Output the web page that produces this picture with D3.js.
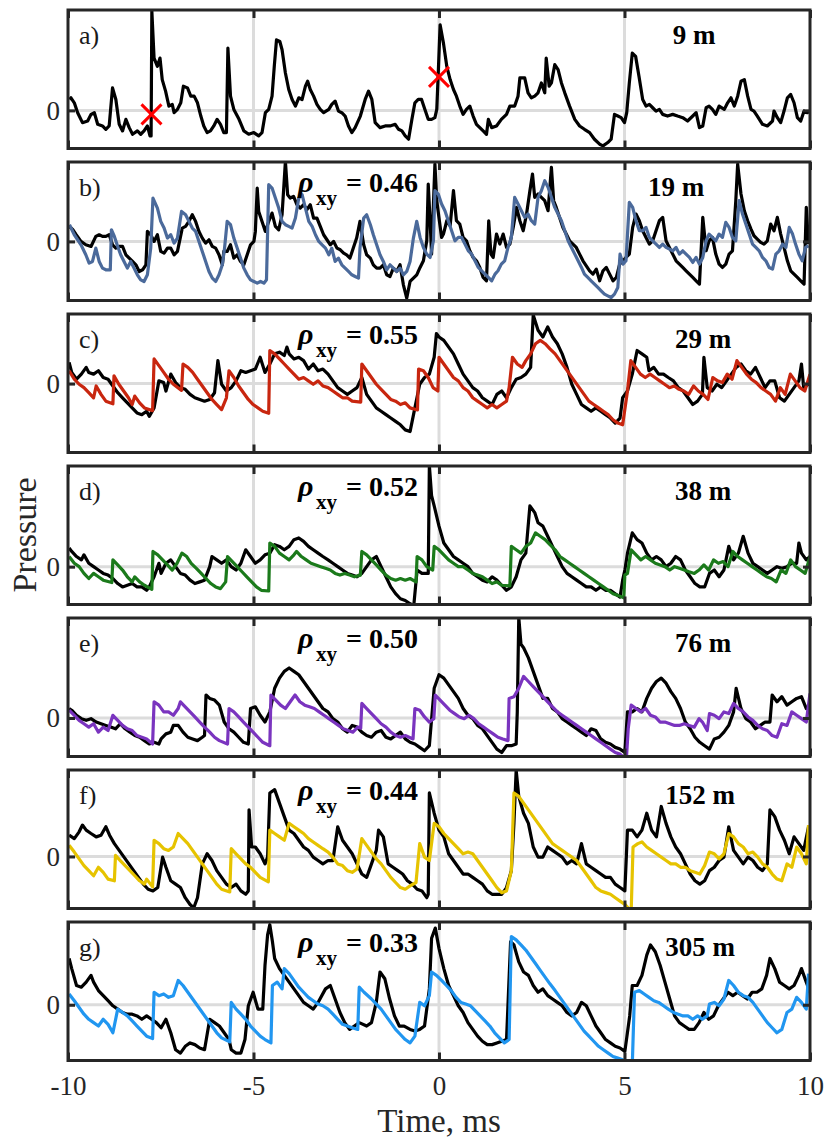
<!DOCTYPE html>
<html>
<head>
<meta charset="utf-8">
<script src="https://cdn.jsdelivr.net/npm/d3@7"></script>
<style>
  body { margin: 0; background: #fff; }
  svg { display: block; }
  text { font-family: "Liberation Serif", "Times New Roman", serif; }
</style>
</head>
<body>
<svg id="chart" width="826" height="1141"></svg>
<script>
// ---- axis settings ----
const timeTicks = [-10, -5, 0, 5, 10];
const gridTimes = [-5, 0, 5];
const panelLetters = ["a)", "b)", "c)", "d)", "e)", "f)", "g)"];
const distances = ["9 m", "19 m", "29 m", "38 m", "76 m", "152 m", "305 m"];
const rhoValues = [null, "0.46", "0.55", "0.52", "0.50", "0.44", "0.33"];
const modelColors = [null, "#4b6a9b", "#c8260f", "#1b7a1b", "#7a34bf", "#e6c300", "#2196f0"];
// pressure range shown in each panel [bottom, top]
const pressureRanges = [[-1.15, 3.03], [-1.77, 2.38], [-2.04, 2.06], [-1.12, 2.98], [-1.14, 2.96], [-1.54, 2.56], [-1.65, 2.45]];
// crosses on the reference record: [time ms, pressure]
const crossMarks = [[-7.75, -0.12], [0.0, 1.01]];

// ---- measured pressure records: [time ms, pressure] ----
const measuredA = [[-9.96,0.33],[-9.92,0.38],[-9.83,0.23],[-9.74,-0.07],[-9.61,-0.37],[-9.47,-0.32],[-9.38,-0.12],[-9.29,-0.07],[-9.20,-0.42],[-9.07,-0.47],[-8.98,-0.57],[-8.89,-0.47],[-8.80,0.68],[-8.71,0.33],[-8.62,-0.42],[-8.53,-0.62],[-8.44,-0.27],[-8.35,-0.52],[-8.26,-0.72],[-8.13,-0.62],[-8.04,-0.72],[-7.95,-0.62],[-7.86,-0.47],[-7.79,-0.77],[-7.76,-0.77],[-7.74,3.0],[-7.68,1.58],[-7.59,1.33],[-7.52,1.58],[-7.46,0.93],[-7.37,0.58],[-7.28,0.13],[-7.19,0.18],[-7.14,-0.07],[-7.05,0.03],[-6.96,0.23],[-6.89,0.73],[-6.78,0.68],[-6.69,0.43],[-6.60,0.43],[-6.51,0.23],[-6.42,-0.17],[-6.34,-0.47],[-6.25,-0.67],[-6.16,-0.62],[-6.07,-0.47],[-5.98,-0.27],[-5.89,-0.42],[-5.80,-0.67],[-5.73,-0.67],[-5.69,1.88],[-5.62,0.43],[-5.53,0.03],[-5.39,-0.27],[-5.26,-0.62],[-5.13,-0.72],[-4.99,-0.67],[-4.86,-0.77],[-4.77,-0.67],[-4.68,-0.07],[-4.59,0.03],[-4.50,0.43],[-4.44,1.33],[-4.38,2.13],[-4.29,2.08],[-4.23,1.83],[-4.14,1.13],[-4.05,0.63],[-3.96,0.33],[-3.87,0.13],[-3.78,0.38],[-3.69,0.33],[-3.60,0.73],[-3.54,0.88],[-3.47,0.63],[-3.38,0.43],[-3.29,0.18],[-3.20,0.03],[-3.11,-0.07],[-2.97,0.03],[-2.89,0.18],[-2.80,0.28],[-2.71,-0.02],[-2.62,-0.07],[-2.53,-0.17],[-2.44,-0.47],[-2.35,-0.67],[-2.26,-0.52],[-2.12,-0.17],[-1.99,0.33],[-1.90,0.58],[-1.81,0.33],[-1.72,-0.37],[-1.59,-0.52],[-1.45,-0.47],[-1.32,-0.47],[-1.18,-0.42],[-1.09,-0.57],[-1.00,-0.62],[-0.91,-0.77],[-0.82,-0.87],[-0.73,-0.27],[-0.65,0.23],[-0.56,0.33],[-0.47,0.33],[-0.38,0.03],[-0.29,-0.27],[-0.20,-0.27],[-0.11,-0.22],[-0.06,0.03],[-0.02,1.13],[0.03,2.58],[0.12,2.03],[0.21,1.33],[0.30,0.93],[0.39,0.63],[0.47,0.43],[0.56,0.13],[0.65,-0.12],[0.74,0.03],[0.83,0.13],[0.92,-0.17],[1.01,-0.42],[1.10,-0.52],[1.19,-0.62],[1.28,-0.72],[1.33,-0.27],[1.42,-0.52],[1.55,-0.47],[1.68,-0.27],[1.82,-0.12],[1.91,0.13],[2.04,0.13],[2.13,0.43],[2.18,0.98],[2.31,0.98],[2.40,0.53],[2.49,0.38],[2.58,0.43],[2.67,0.53],[2.76,0.83],[2.85,0.53],[2.89,1.58],[2.97,0.73],[3.03,0.83],[3.12,1.38],[3.21,1.23],[3.30,0.83],[3.39,0.53],[3.52,0.13],[3.66,-0.27],[3.79,-0.47],[3.92,-0.57],[4.06,-0.67],[4.19,-0.87],[4.33,-1.02],[4.42,-1.07],[4.55,-0.97],[4.64,-0.87],[4.73,-0.12],[4.82,-0.17],[4.91,-0.22],[5.00,-0.37],[5.06,-0.07],[5.13,0.83],[5.21,1.73],[5.30,1.63],[5.39,1.03],[5.49,0.33],[5.58,0.13],[5.67,0.18],[5.76,0.08],[5.85,-0.02],[5.94,0.03],[6.03,-0.12],[6.16,-0.17],[6.30,-0.12],[6.43,-0.17],[6.57,-0.22],[6.70,-0.32],[6.84,-0.17],[6.93,-0.07],[7.02,-0.52],[7.11,-0.47],[7.20,0.08],[7.28,0.13],[7.37,0.03],[7.46,-0.12],[7.55,0.13],[7.69,0.03],[7.78,0.23],[7.87,0.38],[7.96,0.13],[8.05,0.43],[8.14,0.88],[8.23,0.93],[8.32,0.43],[8.41,0.03],[8.49,-0.02],[8.58,-0.17],[8.72,-0.42],[8.85,-0.47],[8.99,-0.32],[9.03,-0.02],[9.12,-0.22],[9.21,-0.37],[9.30,-0.02],[9.39,0.38],[9.48,0.48],[9.57,0.23],[9.66,-0.22],[9.75,-0.32],[9.84,-0.02],[9.93,-0.07],[10.0,-0.02]];

const measuredB = [[-9.96,0.45],[-9.87,0.35],[-9.78,0.20],[-9.65,0.00],[-9.52,-0.10],[-9.38,-0.15],[-9.25,0.15],[-9.16,0.20],[-9.07,0.15],[-8.98,0.15],[-8.89,0.20],[-8.80,-0.10],[-8.71,-0.20],[-8.62,-0.15],[-8.53,-0.15],[-8.44,-0.40],[-8.35,-0.50],[-8.26,-0.60],[-8.17,-0.70],[-8.08,-0.90],[-7.99,-0.85],[-7.90,-0.70],[-7.86,0.30],[-7.77,0.20],[-7.68,0.00],[-7.59,0.20],[-7.50,-0.30],[-7.41,-0.35],[-7.32,-0.20],[-7.23,-0.20],[-7.14,-0.40],[-7.05,-0.30],[-6.92,0.40],[-6.83,0.45],[-6.74,0.60],[-6.65,0.80],[-6.56,0.60],[-6.47,0.30],[-6.38,0.10],[-6.29,-0.05],[-6.20,0.05],[-6.11,-0.15],[-6.02,-0.20],[-5.93,-0.40],[-5.84,-0.70],[-5.80,-0.30],[-5.71,-0.30],[-5.62,-0.10],[-5.53,-0.50],[-5.44,-0.40],[-5.35,-0.60],[-5.26,-0.70],[-5.17,-0.40],[-5.08,-0.10],[-4.99,0.00],[-4.95,0.30],[-4.90,1.60],[-4.86,0.90],[-4.77,0.60],[-4.68,0.30],[-4.59,0.60],[-4.50,0.85],[-4.41,0.45],[-4.32,0.35],[-4.23,0.80],[-4.14,2.40],[-4.08,1.40],[-4.01,1.30],[-3.92,1.35],[-3.83,1.10],[-3.74,1.00],[-3.65,1.10],[-3.56,0.95],[-3.47,1.10],[-3.38,0.70],[-3.29,0.70],[-3.20,0.45],[-3.11,0.20],[-3.02,0.05],[-2.93,-0.10],[-2.84,0.00],[-2.75,-0.20],[-2.66,-0.25],[-2.57,-0.35],[-2.49,-0.40],[-2.40,-0.50],[-2.31,-0.20],[-2.22,0.10],[-2.13,0.60],[-2.03,-0.10],[-1.95,-0.40],[-1.85,-0.50],[-1.77,-0.70],[-1.68,-0.80],[-1.59,-0.80],[-1.50,-0.70],[-1.41,-1.00],[-1.32,-1.05],[-1.23,-0.80],[-1.14,-0.90],[-1.05,-0.70],[-0.96,-1.30],[-0.87,-1.70],[-0.78,-1.20],[-0.69,-1.10],[-0.60,-1.00],[-0.51,-0.78],[-0.42,-0.58],[-0.33,0.02],[-0.29,1.72],[-0.24,0.62],[-0.20,-0.38],[-0.15,1.12],[-0.11,2.32],[-0.06,1.22],[0.01,0.62],[0.07,0.12],[0.12,0.22],[0.21,0.62],[0.30,0.47],[0.39,1.52],[0.47,0.62],[0.56,0.52],[0.65,0.12],[0.74,0.02],[0.83,-0.28],[0.92,-0.48],[1.01,-0.58],[1.10,-0.78],[1.19,-1.08],[1.28,-1.18],[1.34,0.62],[1.40,-0.38],[1.46,-0.48],[1.55,0.22],[1.64,-0.08],[1.73,0.22],[1.82,-0.18],[1.91,-0.08],[2.00,0.42],[2.09,1.02],[2.18,0.62],[2.27,0.32],[2.36,0.82],[2.45,1.52],[2.52,2.02],[2.58,1.32],[2.67,1.42],[2.76,1.32],[2.85,1.22],[2.94,0.92],[3.03,2.22],[3.09,1.22],[3.16,1.02],[3.25,0.72],[3.34,0.42],[3.43,0.22],[3.52,0.02],[3.61,-0.08],[3.70,-0.18],[3.79,-0.38],[3.88,-0.58],[3.97,-0.73],[4.06,-0.88],[4.15,-0.98],[4.24,-0.83],[4.33,-1.18],[4.42,-0.88],[4.51,-0.78],[4.60,-0.98],[4.69,-1.18],[4.78,-1.08],[4.87,-0.68],[4.96,-0.58],[5.04,-0.48],[5.13,-0.38],[5.22,0.42],[5.31,0.82],[5.40,0.62],[5.49,0.32],[5.58,0.12],[5.67,-0.08],[5.76,0.02],[5.85,0.32],[5.94,0.62],[6.03,0.72],[6.12,0.02],[6.21,-0.18],[6.30,-0.38],[6.39,-0.58],[6.48,-0.68],[6.57,-0.78],[6.66,-0.88],[6.75,-0.98],[6.84,-1.08],[6.93,-1.18],[7.02,-1.28],[7.11,0.72],[7.20,-0.28],[7.28,0.02],[7.37,0.12],[7.46,-0.38],[7.55,-0.68],[7.64,-0.78],[7.73,-0.68],[7.82,-0.38],[7.91,-0.28],[8.00,1.22],[8.05,2.32],[8.14,1.42],[8.23,0.92],[8.32,0.62],[8.41,0.37],[8.49,0.17],[8.58,0.07],[8.67,-0.03],[8.76,-0.08],[8.85,0.02],[8.94,0.52],[9.03,0.32],[9.12,0.72],[9.21,0.22],[9.30,-0.18],[9.39,-0.58],[9.48,-0.88],[9.57,-0.98],[9.66,-1.08],[9.75,-1.18],[9.84,-1.28],[9.90,1.02],[9.96,-0.08]];

const measuredC = [[-9.97,0.63],[-9.90,0.33],[-9.77,0.13],[-9.64,0.28],[-9.51,0.48],[-9.44,0.33],[-9.31,0.28],[-9.18,0.38],[-9.05,0.18],[-8.92,0.13],[-8.79,-0.07],[-8.66,-0.27],[-8.53,-0.42],[-8.40,-0.57],[-8.27,-0.72],[-8.14,-0.87],[-8.01,-0.92],[-7.88,-0.82],[-7.81,-0.97],[-7.68,-0.72],[-7.55,0.08],[-7.42,0.03],[-7.36,-0.22],[-7.23,0.28],[-7.10,0.03],[-6.97,-0.12],[-6.84,-0.17],[-6.71,-0.32],[-6.58,-0.42],[-6.45,-0.47],[-6.32,-0.52],[-6.18,-0.47],[-6.05,-0.27],[-5.96,0.68],[-5.86,-0.02],[-5.73,-0.22],[-5.60,-0.12],[-5.47,0.08],[-5.34,0.38],[-5.21,0.33],[-5.08,0.38],[-4.95,0.43],[-4.82,0.78],[-4.69,0.33],[-4.56,0.58],[-4.43,0.88],[-4.30,0.93],[-4.17,0.83],[-4.10,1.08],[-4.04,0.88],[-3.91,0.73],[-3.78,0.78],[-3.65,0.68],[-3.52,0.43],[-3.39,0.58],[-3.26,0.38],[-3.13,0.43],[-2.99,0.28],[-2.86,0.08],[-2.73,-0.12],[-2.60,-0.22],[-2.47,-0.32],[-2.34,-0.22],[-2.21,-0.12],[-2.08,0.18],[-1.95,-0.32],[-1.82,-0.52],[-1.69,-0.72],[-1.56,-0.82],[-1.43,-0.92],[-1.30,-1.02],[-1.17,-1.12],[-1.04,-1.22],[-0.91,-1.37],[-0.78,-1.42],[-0.65,-0.72],[-0.52,-0.02],[-0.39,0.18],[-0.26,0.28],[-0.13,0.78],[-0.07,1.48],[0.00,1.38],[0.13,1.28],[0.26,1.08],[0.39,0.88],[0.52,0.58],[0.65,0.28],[0.78,0.08],[0.91,-0.12],[1.04,-0.22],[1.17,-0.42],[1.30,-0.52],[1.43,-0.62],[1.56,-0.32],[1.69,-0.22],[1.82,-0.42],[1.95,-0.12],[2.08,0.13],[2.21,0.18],[2.34,0.28],[2.47,0.48],[2.54,2.03],[2.67,1.58],[2.80,1.38],[2.93,1.68],[3.06,1.38],[3.19,1.18],[3.32,0.88],[3.45,0.48],[3.58,-0.02],[3.71,-0.32],[3.84,-0.62],[3.97,-0.72],[4.10,-0.82],[4.23,-0.72],[4.36,-0.82],[4.49,-0.92],[4.62,-1.02],[4.75,-1.17],[4.88,-1.02],[4.95,-0.42],[5.08,-0.22],[5.21,0.28],[5.34,0.98],[5.47,0.88],[5.60,0.78],[5.66,0.38],[5.79,0.48],[5.92,0.28],[6.05,0.28],[6.18,0.18],[6.32,0.08],[6.45,-0.12],[6.58,-0.22],[6.71,-0.42],[6.84,-0.62],[6.97,-0.52],[7.10,-0.32],[7.14,0.78],[7.23,-0.12],[7.36,-0.22],[7.49,-0.02],[7.62,-0.12],[7.75,0.08],[7.88,0.28],[8.01,0.48],[8.14,0.58],[8.27,0.38],[8.40,0.28],[8.53,0.48],[8.66,0.18],[8.79,-0.12],[8.92,0.08],[9.05,0.08],[9.18,-0.42],[9.31,-0.52],[9.44,-0.32],[9.57,-0.12],[9.70,0.08],[9.77,0.58],[9.83,-0.12],[9.96,-0.02]];

const measuredD = [[-9.97,0.55],[-9.90,0.45],[-9.77,0.30],[-9.64,0.20],[-9.57,0.35],[-9.44,0.10],[-9.31,0.00],[-9.18,-0.10],[-9.05,-0.20],[-8.92,-0.25],[-8.79,-0.35],[-8.66,-0.50],[-8.53,-0.60],[-8.40,-0.55],[-8.27,-0.50],[-8.14,-0.60],[-8.01,-0.60],[-7.88,-0.70],[-7.81,-0.60],[-7.68,-0.30],[-7.55,0.10],[-7.49,-0.20],[-7.36,0.10],[-7.23,0.20],[-7.10,0.00],[-6.97,-0.20],[-6.84,-0.25],[-6.71,-0.40],[-6.58,-0.50],[-6.45,-0.45],[-6.32,-0.40],[-6.18,0.00],[-6.12,0.30],[-5.99,0.20],[-5.86,0.10],[-5.73,0.20],[-5.60,0.00],[-5.47,-0.10],[-5.34,0.10],[-5.21,0.50],[-5.08,0.30],[-4.95,0.10],[-4.82,0.20],[-4.69,0.35],[-4.56,0.40],[-4.43,0.65],[-4.30,0.60],[-4.17,0.50],[-4.04,0.60],[-3.91,0.80],[-3.78,0.85],[-3.65,0.75],[-3.52,0.60],[-3.39,0.50],[-3.26,0.40],[-3.13,0.30],[-2.99,0.20],[-2.86,0.10],[-2.73,0.00],[-2.60,-0.10],[-2.47,-0.20],[-2.34,-0.25],[-2.21,-0.30],[-2.08,-0.20],[-1.95,0.00],[-1.82,0.20],[-1.69,0.30],[-1.56,0.00],[-1.43,-0.30],[-1.30,-0.60],[-1.17,-0.80],[-1.04,-0.95],[-0.91,-1.00],[-0.78,-1.10],[-0.68,-1.15],[-0.59,-0.10],[-0.46,-0.20],[-0.33,-0.20],[-0.29,-0.20],[-0.26,3.00],[-0.20,2.10],[-0.13,1.80],[0.00,1.20],[0.13,0.70],[0.26,0.50],[0.39,0.30],[0.52,0.20],[0.65,0.10],[0.78,0.00],[0.91,-0.20],[1.04,-0.30],[1.17,-0.40],[1.30,-0.45],[1.43,-0.30],[1.56,-0.40],[1.69,-0.55],[1.82,-0.70],[1.95,-0.60],[2.08,-0.30],[2.21,0.20],[2.34,0.40],[2.45,1.80],[2.58,1.60],[2.67,1.30],[2.80,1.20],[2.93,0.90],[3.06,0.60],[3.19,0.30],[3.32,0.00],[3.45,-0.20],[3.58,-0.30],[3.71,-0.40],[3.84,-0.50],[3.97,-0.60],[4.10,-0.60],[4.23,-0.70],[4.36,-0.60],[4.49,-0.70],[4.62,-0.70],[4.75,-0.80],[4.88,-0.90],[4.95,-0.40],[5.01,-0.10],[5.08,0.40],[5.21,1.00],[5.34,0.80],[5.47,0.70],[5.60,0.40],[5.73,0.20],[5.86,0.30],[5.99,0.20],[6.12,0.00],[6.25,0.10],[6.38,0.30],[6.51,0.20],[6.64,-0.10],[6.77,-0.30],[6.90,-0.50],[7.03,-0.60],[7.16,-0.60],[7.29,-0.20],[7.42,-0.10],[7.55,-0.30],[7.68,-0.10],[7.81,0.60],[7.94,0.20],[8.07,0.40],[8.20,0.90],[8.33,0.40],[8.46,0.10],[8.59,0.00],[8.72,-0.10],[8.85,-0.20],[8.98,-0.10],[9.11,0.00],[9.24,-0.05],[9.38,0.00],[9.51,0.10],[9.64,0.10],[9.70,0.70],[9.77,0.40],[9.90,0.20],[10.0,0.30]];

const measuredE = [[-9.97,0.28],[-9.90,0.23],[-9.77,0.08],[-9.64,-0.02],[-9.51,-0.07],[-9.38,-0.02],[-9.24,-0.12],[-9.11,-0.17],[-8.98,-0.22],[-8.85,-0.27],[-8.72,-0.32],[-8.59,-0.17],[-8.46,-0.32],[-8.33,-0.42],[-8.20,-0.52],[-8.07,-0.57],[-7.94,-0.67],[-7.81,-0.77],[-7.68,-0.72],[-7.55,-0.77],[-7.49,-0.62],[-7.36,-0.47],[-7.23,-0.42],[-7.16,-0.22],[-7.03,-0.22],[-6.90,-0.42],[-6.77,-0.57],[-6.64,-0.62],[-6.51,-0.67],[-6.38,-0.57],[-6.32,-0.52],[-6.28,0.68],[-6.18,0.58],[-6.05,0.53],[-5.92,0.38],[-5.79,-0.12],[-5.66,-0.32],[-5.53,-0.42],[-5.40,-0.57],[-5.27,-0.72],[-5.14,-0.77],[-5.08,0.28],[-4.95,0.33],[-4.82,0.08],[-4.69,-0.12],[-4.56,0.18],[-4.43,0.88],[-4.30,1.18],[-4.17,1.38],[-4.04,1.48],[-3.91,1.38],[-3.78,1.28],[-3.65,1.08],[-3.52,0.88],[-3.39,0.68],[-3.26,0.48],[-3.13,0.28],[-2.99,0.18],[-2.86,-0.02],[-2.73,-0.12],[-2.60,-0.32],[-2.47,-0.42],[-2.34,-0.22],[-2.21,-0.27],[-2.08,-0.42],[-1.95,-0.52],[-1.82,-0.57],[-1.69,-0.42],[-1.56,-0.37],[-1.43,-0.57],[-1.30,-0.62],[-1.17,-0.52],[-1.04,-0.42],[-0.91,-0.62],[-0.78,-0.72],[-0.65,-0.77],[-0.52,-0.87],[-0.39,-0.97],[-0.26,-0.82],[-0.13,0.88],[0.00,1.28],[0.13,1.18],[0.26,0.98],[0.39,0.78],[0.52,0.58],[0.65,0.28],[0.78,0.08],[0.91,-0.02],[1.04,-0.22],[1.17,-0.32],[1.30,-0.52],[1.43,-0.72],[1.56,-0.92],[1.69,-1.02],[1.82,-0.82],[1.95,-0.82],[2.08,-0.77],[2.11,0.18],[2.15,2.98],[2.21,2.18],[2.28,2.08],[2.41,1.78],[2.54,1.38],[2.67,0.98],[2.80,0.58],[2.93,0.58],[3.06,0.28],[3.19,0.18],[3.32,-0.02],[3.45,-0.12],[3.58,-0.22],[3.71,-0.32],[3.84,-0.42],[3.97,-0.52],[4.10,-0.32],[4.23,-0.37],[4.36,-0.62],[4.49,-0.72],[4.62,-0.77],[4.75,-0.87],[4.88,-0.92],[5.01,-1.02],[5.08,0.18],[5.21,0.18],[5.34,0.28],[5.47,0.18],[5.60,0.58],[5.73,0.88],[5.86,1.08],[5.99,1.18],[6.12,1.03],[6.25,0.78],[6.38,0.58],[6.51,0.28],[6.64,-0.12],[6.77,-0.32],[6.90,-0.57],[7.03,-0.72],[7.16,-0.82],[7.29,-0.92],[7.42,-0.62],[7.55,-0.57],[7.68,-0.42],[7.81,-0.22],[7.94,0.18],[8.01,0.88],[8.14,0.28],[8.27,-0.02],[8.40,-0.12],[8.53,-0.32],[8.66,-0.22],[8.79,-0.12],[8.92,-0.12],[8.98,0.68],[9.11,0.48],[9.24,0.63],[9.38,0.38],[9.51,0.48],[9.64,0.58],[9.77,0.63],[9.90,0.28],[10.0,0.38]];

const measuredF = [[-9.97,0.63],[-9.83,0.53],[-9.70,0.73],[-9.61,0.93],[-9.51,0.78],[-9.38,0.68],[-9.24,0.58],[-9.11,0.63],[-8.98,0.88],[-8.88,0.63],[-8.75,0.38],[-8.62,0.18],[-8.49,-0.02],[-8.36,-0.22],[-8.23,-0.42],[-8.10,-0.62],[-7.97,-0.82],[-7.84,-0.97],[-7.71,-1.02],[-7.58,-0.92],[-7.45,-0.02],[-7.36,-0.32],[-7.23,-0.72],[-7.10,-0.82],[-6.97,-0.92],[-6.84,-1.22],[-6.71,-1.42],[-6.61,-1.52],[-6.51,-1.22],[-6.38,-0.22],[-6.25,0.08],[-6.12,-0.12],[-5.99,-0.42],[-5.86,-0.62],[-5.73,-0.82],[-5.60,-0.92],[-5.47,-0.82],[-5.34,-1.02],[-5.21,-1.12],[-5.14,-1.02],[-5.12,1.38],[-5.05,0.28],[-4.95,0.28],[-4.82,0.08],[-4.69,-0.22],[-4.62,-0.02],[-4.56,1.88],[-4.43,1.98],[-4.30,1.58],[-4.17,1.18],[-4.04,0.78],[-3.91,0.68],[-3.78,0.48],[-3.65,0.28],[-3.52,0.18],[-3.39,-0.02],[-3.26,-0.12],[-3.13,-0.22],[-2.99,-0.12],[-2.86,-0.12],[-2.73,0.88],[-2.60,0.48],[-2.47,0.28],[-2.34,0.08],[-2.21,-0.22],[-2.08,-0.52],[-1.95,-0.62],[-1.82,-0.22],[-1.69,0.18],[-1.63,0.78],[-1.50,0.58],[-1.37,-0.22],[-1.24,-0.32],[-1.11,-0.42],[-0.98,-0.52],[-0.85,-0.72],[-0.72,-0.82],[-0.59,-0.97],[-0.46,-1.02],[-0.33,-1.22],[-0.29,-1.12],[-0.26,1.88],[-0.13,1.28],[0.00,0.78],[0.13,0.58],[0.26,0.08],[0.39,-0.12],[0.52,-0.32],[0.65,-0.52],[0.78,-0.52],[0.91,-0.62],[1.04,-0.72],[1.17,-0.82],[1.30,-1.02],[1.43,-1.12],[1.56,-1.12],[1.69,-1.12],[1.82,-0.92],[1.95,-0.42],[2.02,0.98],[2.08,2.56],[2.15,1.78],[2.28,1.28],[2.41,0.98],[2.54,0.28],[2.67,-0.02],[2.80,-0.02],[2.93,0.28],[3.06,0.18],[3.19,0.08],[3.32,-0.02],[3.45,-0.22],[3.58,-0.12],[3.71,-0.22],[3.84,0.38],[3.97,-0.22],[4.10,-0.32],[4.23,-0.42],[4.36,-0.52],[4.49,-0.62],[4.62,-0.62],[4.75,-0.82],[4.88,-0.92],[5.01,-1.02],[5.08,0.78],[5.21,0.78],[5.34,0.58],[5.47,0.78],[5.60,1.28],[5.73,0.78],[5.86,0.58],[5.99,1.48],[6.12,0.98],[6.25,0.58],[6.38,0.28],[6.51,0.08],[6.64,-0.22],[6.77,-0.52],[6.90,-0.72],[7.03,-0.82],[7.16,-0.72],[7.29,-0.42],[7.42,-0.32],[7.55,-0.12],[7.68,-0.02],[7.81,0.88],[7.94,0.18],[8.07,-0.02],[8.20,-0.22],[8.33,-0.02],[8.46,-0.12],[8.59,-0.32],[8.72,-0.42],[8.85,-0.22],[8.92,1.38],[9.05,1.18],[9.18,0.78],[9.31,0.48],[9.44,0.08],[9.57,0.58],[9.70,0.38],[9.83,0.18],[9.96,0.88]];

const measuredG = [[-9.97,1.37],[-9.90,1.07],[-9.77,0.57],[-9.64,0.52],[-9.51,0.67],[-9.38,0.87],[-9.31,0.67],[-9.18,0.42],[-9.05,0.27],[-8.92,0.12],[-8.79,-0.03],[-8.66,-0.13],[-8.53,-0.23],[-8.40,-0.28],[-8.27,-0.28],[-8.14,-0.33],[-8.01,-0.43],[-7.88,-0.33],[-7.75,-0.43],[-7.62,-0.53],[-7.49,-0.68],[-7.36,-0.43],[-7.23,-0.83],[-7.10,-1.33],[-6.97,-1.43],[-6.84,-1.23],[-6.71,-1.13],[-6.58,-1.18],[-6.45,-1.28],[-6.32,-1.33],[-6.18,-0.43],[-6.05,-0.53],[-5.92,-0.63],[-5.79,-0.83],[-5.66,-1.03],[-5.60,-1.33],[-5.47,-1.43],[-5.34,-1.43],[-5.23,-1.03],[-5.14,-0.03],[-5.01,0.37],[-4.88,-0.13],[-4.75,-0.13],[-4.69,1.17],[-4.62,2.07],[-4.56,2.37],[-4.49,1.87],[-4.43,1.37],[-4.30,1.07],[-4.17,0.87],[-4.04,0.67],[-3.91,0.47],[-3.78,0.27],[-3.65,0.07],[-3.52,-0.03],[-3.39,-0.13],[-3.26,0.07],[-3.06,0.47],[-2.93,0.57],[-2.80,0.17],[-2.67,-0.23],[-2.54,-0.53],[-2.41,-0.73],[-2.28,-0.63],[-2.15,-0.53],[-1.95,-0.63],[-1.82,-0.53],[-1.69,0.07],[-1.59,0.97],[-1.46,0.77],[-1.33,0.17],[-1.20,-0.33],[-1.07,-0.63],[-0.94,-0.63],[-0.78,-0.73],[-0.65,-0.78],[-0.52,-0.73],[-0.39,-0.63],[-0.26,0.47],[-0.20,1.97],[-0.10,2.27],[0.00,1.67],[0.13,1.07],[0.26,0.57],[0.39,0.27],[0.52,-0.03],[0.65,-0.23],[0.78,-0.53],[0.91,-0.73],[1.04,-0.93],[1.17,-1.08],[1.30,-1.18],[1.43,-1.18],[1.56,-1.13],[1.69,-1.08],[1.82,-1.03],[1.93,1.87],[2.02,1.77],[2.15,1.27],[2.28,0.97],[2.41,0.87],[2.54,0.57],[2.67,0.37],[2.80,0.47],[2.93,0.27],[3.06,0.17],[3.19,0.07],[3.32,-0.03],[3.45,-0.23],[3.58,-0.33],[3.71,-0.23],[3.84,0.07],[3.97,-0.03],[4.10,-0.33],[4.23,-0.63],[4.36,-0.83],[4.49,-1.03],[4.62,-1.13],[4.75,-1.23],[4.88,-1.28],[5.01,-1.38],[5.14,-0.33],[5.21,0.57],[5.34,0.57],[5.47,0.87],[5.60,1.47],[5.70,1.77],[5.83,1.57],[5.96,1.17],[6.09,0.67],[6.22,0.17],[6.35,-0.33],[6.48,-0.53],[6.61,-0.63],[6.74,-0.73],[6.88,-0.73],[7.01,-0.53],[7.14,-0.23],[7.27,-0.43],[7.40,-0.33],[7.53,-0.03],[7.66,0.17],[7.79,0.37],[7.92,0.27],[8.05,0.37],[8.18,0.27],[8.31,0.17],[8.44,0.37],[8.57,0.37],[8.70,0.47],[8.83,0.87],[8.92,1.37],[9.05,1.07],[9.18,0.67],[9.31,0.57],[9.44,0.47],[9.57,0.57],[9.70,0.87],[9.77,1.07],[9.90,0.67],[10.0,0.37]];

// ---- modelled pressure records: [time ms, pressure] ----
const modelB = [[-9.96,0.50],[-9.83,0.20],[-9.65,-0.10],[-9.52,-0.40],[-9.43,-0.65],[-9.34,-0.60],[-9.25,-0.20],[-9.16,-0.60],[-9.07,-0.80],[-8.98,-0.85],[-8.86,-0.85],[-8.83,0.35],[-8.75,0.15],[-8.66,-0.15],[-8.58,-0.40],[-8.49,-0.60],[-8.40,-0.80],[-8.31,-0.60],[-8.22,-0.80],[-8.13,-1.00],[-8.04,-1.15],[-7.95,-1.20],[-7.86,-1.00],[-7.77,-0.20],[-7.71,1.30],[-7.59,1.00],[-7.50,0.60],[-7.41,0.40],[-7.32,0.10],[-7.23,0.20],[-7.14,-0.05],[-7.05,0.10],[-6.94,0.90],[-6.83,0.80],[-6.74,0.60],[-6.65,0.40],[-6.56,0.30],[-6.47,0.00],[-6.38,-0.30],[-6.29,-0.60],[-6.20,-0.90],[-6.11,-1.10],[-6.02,-1.20],[-5.93,-1.00],[-5.84,-0.70],[-5.78,-0.20],[-5.71,0.60],[-5.62,0.50],[-5.53,0.10],[-5.44,-0.20],[-5.35,-0.50],[-5.26,-0.80],[-5.17,-1.00],[-5.08,-1.15],[-4.99,-1.20],[-4.90,-1.25],[-4.81,-1.20],[-4.72,-1.25],[-4.65,-1.15],[-4.59,1.70],[-4.50,1.60],[-4.41,1.30],[-4.32,1.00],[-4.23,0.60],[-4.14,0.50],[-4.05,0.45],[-3.96,0.40],[-3.87,0.70],[-3.78,1.30],[-3.69,1.40],[-3.60,1.00],[-3.51,0.60],[-3.42,0.45],[-3.33,0.20],[-3.24,0.00],[-3.15,-0.10],[-3.06,-0.20],[-2.97,-0.40],[-2.89,-0.20],[-2.80,-0.60],[-2.71,-0.50],[-2.62,-0.70],[-2.53,-0.80],[-2.44,-0.90],[-2.35,-1.00],[-2.26,-1.05],[-2.17,-1.10],[-2.13,-0.20],[-2.03,0.70],[-1.95,0.80],[-1.85,0.50],[-1.77,0.20],[-1.68,-0.10],[-1.59,-0.40],[-1.50,-0.60],[-1.41,-0.85],[-1.32,-0.70],[-1.23,-0.80],[-1.14,-0.90],[-1.05,-0.80],[-0.96,-1.00],[-0.87,-0.90],[-0.78,-0.60],[-0.69,0.10],[-0.60,0.60],[-0.51,0.12],[-0.42,-0.18],[-0.33,-0.38],[-0.24,-0.48],[-0.15,0.02],[-0.11,1.52],[-0.02,1.42],[0.07,1.12],[0.16,0.92],[0.25,0.62],[0.34,0.32],[0.43,0.02],[0.52,0.12],[0.61,0.12],[0.70,-0.08],[0.79,-0.28],[0.88,-0.38],[0.97,-0.58],[1.06,-0.78],[1.15,-0.88],[1.24,-0.98],[1.33,-1.08],[1.42,-1.18],[1.51,-0.98],[1.59,-0.88],[1.68,-0.68],[1.77,-0.58],[1.86,-0.18],[1.95,0.12],[2.04,1.32],[2.13,1.12],[2.22,0.92],[2.31,0.72],[2.40,0.82],[2.49,0.62],[2.58,0.52],[2.67,1.32],[2.76,1.52],[2.85,1.82],[2.94,1.62],[3.03,1.32],[3.12,1.02],[3.21,0.82],[3.30,0.62],[3.39,0.32],[3.48,0.02],[3.57,-0.18],[3.66,-0.38],[3.75,-0.58],[3.84,-0.78],[3.92,-0.98],[4.01,-1.08],[4.10,-1.18],[4.19,-1.28],[4.28,-1.38],[4.37,-1.48],[4.46,-1.58],[4.55,-1.63],[4.64,-1.68],[4.73,-1.58],[4.82,-1.38],[4.88,-0.38],[4.96,-0.68],[5.04,-0.58],[5.13,1.17],[5.22,1.02],[5.31,0.62],[5.40,0.32],[5.49,0.32],[5.58,0.42],[5.67,0.12],[5.76,0.02],[5.85,-0.08],[5.94,-0.18],[6.03,-0.08],[6.12,-0.18],[6.21,-0.23],[6.30,-0.28],[6.39,-0.18],[6.48,-0.38],[6.57,-0.28],[6.66,-0.38],[6.75,-0.48],[6.84,-0.63],[6.93,-0.48],[7.02,-0.68],[7.11,-0.48],[7.20,0.02],[7.28,0.22],[7.37,0.12],[7.46,0.02],[7.55,0.22],[7.64,0.12],[7.73,0.57],[7.82,0.42],[7.91,0.12],[8.00,0.02],[8.09,1.22],[8.18,0.82],[8.27,0.52],[8.36,0.22],[8.45,-0.08],[8.54,-0.18],[8.63,-0.28],[8.72,-0.48],[8.81,-0.58],[8.90,-0.78],[8.99,-0.83],[9.08,-0.38],[9.17,-0.28],[9.26,-0.08],[9.35,-0.18],[9.44,0.42],[9.53,0.22],[9.61,-0.08],[9.70,-0.38],[9.79,-0.58],[9.88,-0.18],[9.96,-0.13]];

const modelC = [[-9.97,0.38],[-9.83,0.13],[-9.70,-0.02],[-9.57,-0.12],[-9.44,-0.27],[-9.31,-0.42],[-9.24,-0.07],[-9.11,-0.32],[-8.98,-0.52],[-8.79,-0.60],[-8.76,0.23],[-8.63,-0.02],[-8.50,-0.22],[-8.37,-0.42],[-8.27,-0.62],[-8.20,-0.37],[-8.07,-0.57],[-7.94,-0.72],[-7.72,-0.80],[-7.68,0.73],[-7.55,0.53],[-7.42,0.33],[-7.29,0.13],[-7.16,-0.02],[-6.94,-0.20],[-6.90,0.58],[-6.77,0.48],[-6.64,0.33],[-6.51,0.13],[-6.38,-0.07],[-6.25,-0.27],[-6.12,-0.47],[-5.99,-0.62],[-5.86,-0.77],[-5.73,-0.42],[-5.66,0.38],[-5.53,0.18],[-5.40,-0.07],[-5.27,-0.27],[-5.14,-0.47],[-5.01,-0.62],[-4.88,-0.72],[-4.75,-0.82],[-4.59,-0.88],[-4.56,0.98],[-4.43,0.88],[-4.30,0.73],[-4.17,0.58],[-4.04,0.43],[-3.91,0.28],[-3.78,0.13],[-3.65,0.18],[-3.52,0.08],[-3.39,-0.02],[-3.26,0.08],[-3.13,-0.07],[-2.99,-0.12],[-2.86,-0.22],[-2.73,-0.32],[-2.60,-0.42],[-2.47,-0.42],[-2.34,-0.52],[-2.11,-0.55],[-2.08,0.58],[-1.95,0.38],[-1.82,0.18],[-1.69,-0.02],[-1.56,-0.17],[-1.43,-0.32],[-1.30,-0.47],[-1.17,-0.52],[-1.04,-0.62],[-0.91,-0.57],[-0.78,-0.72],[-0.58,-0.78],[-0.55,0.43],[-0.42,0.38],[-0.29,0.18],[-0.16,-0.12],[-0.03,-0.22],[0.00,0.78],[0.13,0.58],[0.26,0.38],[0.39,0.18],[0.52,0.08],[0.65,-0.12],[0.78,-0.22],[0.91,-0.42],[1.04,-0.52],[1.17,-0.62],[1.30,-0.72],[1.43,-0.62],[1.56,-0.72],[1.69,-0.62],[1.82,-0.52],[1.89,-0.12],[1.98,0.78],[2.11,0.58],[2.24,0.48],[2.34,0.68],[2.47,0.88],[2.60,1.18],[2.73,1.28],[2.86,1.18],[2.99,1.03],[3.13,0.88],[3.26,0.68],[3.39,0.48],[3.52,0.28],[3.65,0.08],[3.78,-0.12],[3.91,-0.32],[4.04,-0.52],[4.17,-0.62],[4.30,-0.72],[4.43,-0.82],[4.56,-0.92],[4.69,-1.07],[4.82,-1.17],[4.95,-1.22],[5.08,-0.22],[5.17,0.68],[5.30,0.48],[5.43,0.28],[5.56,0.18],[5.69,0.28],[5.82,0.18],[5.95,0.08],[6.08,-0.02],[6.21,-0.12],[6.34,-0.07],[6.47,-0.17],[6.60,-0.22],[6.73,-0.32],[6.86,-0.07],[6.99,-0.22],[7.12,-0.32],[7.25,-0.47],[7.38,0.18],[7.51,0.08],[7.64,0.03],[7.77,0.28],[7.90,0.13],[8.03,0.68],[8.16,0.48],[8.29,0.28],[8.42,0.13],[8.55,0.03],[8.68,-0.12],[8.81,-0.22],[8.94,-0.32],[9.07,-0.52],[9.20,-0.12],[9.33,-0.32],[9.47,0.28],[9.60,0.08],[9.73,-0.12],[9.86,-0.22],[10.0,0.28]];

const modelD = [[-9.97,0.30],[-9.83,0.10],[-9.70,0.00],[-9.57,-0.20],[-9.44,-0.35],[-9.31,-0.20],[-9.18,-0.30],[-9.05,-0.40],[-8.82,-0.47],[-8.79,0.20],[-8.66,0.05],[-8.53,-0.10],[-8.40,-0.30],[-8.27,-0.45],[-8.20,-0.30],[-8.07,-0.45],[-7.94,-0.55],[-7.74,-0.67],[-7.71,0.45],[-7.58,0.35],[-7.45,0.20],[-7.32,0.05],[-7.19,-0.10],[-7.06,0.10],[-6.93,0.40],[-6.80,0.30],[-6.68,0.10],[-6.54,-0.05],[-6.41,-0.20],[-6.28,-0.35],[-6.15,-0.50],[-6.02,-0.60],[-5.89,-0.65],[-5.75,-0.45],[-5.70,0.30],[-5.57,0.15],[-5.44,0.00],[-5.31,-0.15],[-5.18,-0.30],[-5.05,-0.45],[-4.92,-0.60],[-4.79,-0.70],[-4.59,-0.72],[-4.56,0.70],[-4.43,0.60],[-4.30,0.40],[-4.17,0.30],[-4.04,0.20],[-3.91,0.35],[-3.84,0.45],[-3.71,0.30],[-3.58,0.20],[-3.45,0.10],[-3.32,0.05],[-3.19,0.00],[-3.06,-0.05],[-2.93,-0.10],[-2.80,-0.20],[-2.67,-0.25],[-2.54,-0.20],[-2.41,-0.25],[-2.28,-0.30],[-2.12,-0.25],[-2.08,0.45],[-1.95,0.35],[-1.82,0.20],[-1.69,0.05],[-1.56,-0.10],[-1.43,-0.25],[-1.30,-0.35],[-1.17,-0.40],[-1.04,-0.35],[-0.91,-0.40],[-0.78,-0.35],[-0.62,-0.45],[-0.59,0.30],[-0.46,0.20],[-0.33,0.00],[-0.17,-0.10],[-0.13,0.60],[0.00,0.50],[0.13,0.35],[0.26,0.20],[0.39,0.10],[0.52,0.00],[0.65,0.00],[0.78,-0.10],[0.91,-0.20],[1.04,-0.25],[1.17,-0.30],[1.30,-0.40],[1.43,-0.50],[1.56,-0.45],[1.69,-0.55],[1.91,-0.57],[1.95,0.60],[2.08,0.50],[2.21,0.40],[2.34,0.60],[2.47,0.70],[2.60,1.00],[2.73,0.90],[2.86,0.80],[2.99,0.65],[3.13,0.50],[3.26,0.30],[3.39,0.20],[3.52,0.10],[3.65,0.00],[3.78,-0.10],[3.91,-0.20],[4.04,-0.30],[4.17,-0.40],[4.30,-0.50],[4.43,-0.60],[4.56,-0.70],[4.69,-0.80],[4.82,-0.85],[4.98,-0.92],[5.01,-0.25],[5.08,-0.20],[5.18,0.50],[5.31,0.35],[5.44,0.20],[5.57,0.30],[5.70,0.20],[5.83,0.10],[5.96,0.05],[6.09,0.00],[6.22,-0.10],[6.35,0.00],[6.48,-0.05],[6.61,-0.10],[6.74,-0.15],[6.88,-0.20],[7.01,-0.10],[7.14,0.05],[7.27,-0.10],[7.40,0.20],[7.53,0.10],[7.66,0.15],[7.79,0.00],[7.92,0.45],[8.05,0.30],[8.18,0.20],[8.31,0.10],[8.44,0.00],[8.57,-0.10],[8.70,-0.20],[8.83,-0.30],[8.96,-0.35],[9.09,-0.45],[9.22,-0.10],[9.35,-0.20],[9.48,0.20],[9.61,0.00],[9.74,-0.10],[9.87,-0.20],[10.0,0.30]];

const modelE = [[-9.97,0.23],[-9.83,0.08],[-9.70,-0.07],[-9.57,-0.17],[-9.44,-0.27],[-9.31,-0.17],[-9.18,-0.42],[-9.05,-0.27],[-8.92,-0.37],[-8.79,0.08],[-8.66,-0.07],[-8.53,-0.22],[-8.40,-0.32],[-8.27,-0.37],[-8.14,-0.52],[-8.01,-0.57],[-7.88,-0.62],[-7.72,-0.77],[-7.68,0.48],[-7.55,0.38],[-7.42,0.18],[-7.29,0.18],[-7.16,0.08],[-7.03,0.28],[-6.97,0.48],[-6.84,0.33],[-6.71,0.18],[-6.58,0.03],[-6.45,-0.12],[-6.32,-0.27],[-6.18,-0.42],[-6.05,-0.57],[-5.92,-0.67],[-5.70,-0.77],[-5.66,0.28],[-5.53,0.18],[-5.40,0.03],[-5.27,-0.12],[-5.14,-0.27],[-5.01,-0.42],[-4.88,-0.57],[-4.75,-0.72],[-4.56,-0.82],[-4.53,0.68],[-4.40,0.53],[-4.27,0.38],[-4.14,0.28],[-4.01,0.48],[-3.88,0.68],[-3.75,0.48],[-3.62,0.38],[-3.49,0.33],[-3.36,0.28],[-3.23,0.18],[-3.10,0.08],[-2.97,-0.02],[-2.84,-0.12],[-2.71,-0.22],[-2.58,-0.32],[-2.45,-0.37],[-2.32,-0.42],[-2.19,-0.27],[-2.11,-0.30],[-2.08,0.43],[-1.95,0.28],[-1.82,0.13],[-1.69,-0.02],[-1.56,-0.17],[-1.43,-0.27],[-1.30,-0.42],[-1.17,-0.52],[-1.04,-0.57],[-0.91,-0.52],[-0.70,-0.62],[-0.65,0.28],[-0.52,0.23],[-0.39,0.03],[-0.26,-0.12],[-0.14,-0.02],[-0.10,0.68],[0.03,0.53],[0.16,0.38],[0.29,0.23],[0.42,0.13],[0.55,0.03],[0.68,-0.02],[0.81,0.08],[0.94,-0.02],[1.07,-0.17],[1.20,-0.27],[1.33,-0.37],[1.46,-0.47],[1.59,-0.57],[1.72,-0.62],[1.86,-0.67],[1.89,0.58],[2.02,0.63],[2.15,0.88],[2.28,1.23],[2.41,1.08],[2.54,0.93],[2.67,0.78],[2.80,0.63],[2.93,0.48],[3.06,0.33],[3.19,0.18],[3.32,0.08],[3.45,-0.02],[3.58,-0.12],[3.71,-0.22],[3.84,-0.32],[3.97,-0.42],[4.10,-0.52],[4.23,-0.62],[4.36,-0.72],[4.49,-0.82],[4.62,-0.92],[4.75,-1.02],[4.88,-1.07],[5.05,-1.22],[5.10,-0.32],[5.18,0.38],[5.31,0.28],[5.44,0.18],[5.57,0.28],[5.70,0.08],[5.83,0.03],[5.96,-0.12],[6.09,-0.12],[6.22,-0.17],[6.35,-0.22],[6.48,-0.22],[6.61,-0.17],[6.74,-0.22],[6.88,-0.27],[7.01,-0.02],[7.10,-0.12],[7.23,-0.37],[7.29,0.13],[7.42,0.08],[7.55,-0.02],[7.68,0.18],[7.81,0.13],[7.94,0.43],[8.07,0.28],[8.20,0.18],[8.33,0.03],[8.46,-0.07],[8.59,-0.22],[8.72,-0.32],[8.85,-0.37],[8.98,-0.52],[9.11,-0.57],[9.24,-0.17],[9.38,-0.22],[9.51,0.18],[9.64,0.08],[9.77,-0.02],[9.90,-0.12],[10.0,0.73]];

const modelF = [[-9.97,0.33],[-9.83,0.13],[-9.70,-0.07],[-9.57,-0.27],[-9.44,-0.42],[-9.31,-0.57],[-9.18,-0.32],[-9.05,-0.47],[-8.92,-0.67],[-8.75,-0.72],[-8.72,0.03],[-8.59,-0.12],[-8.46,-0.27],[-8.33,-0.42],[-8.20,-0.57],[-8.07,-0.72],[-7.94,-0.82],[-7.88,-0.67],[-7.72,-0.90],[-7.68,0.48],[-7.55,0.38],[-7.42,0.23],[-7.29,0.18],[-7.16,0.28],[-7.03,0.68],[-6.90,0.53],[-6.77,0.38],[-6.64,0.18],[-6.51,-0.02],[-6.38,-0.22],[-6.25,-0.42],[-6.12,-0.62],[-5.99,-0.82],[-5.86,-0.97],[-5.64,-1.05],[-5.60,0.23],[-5.47,0.08],[-5.34,-0.07],[-5.21,-0.22],[-5.08,-0.32],[-4.95,-0.47],[-4.82,-0.62],[-4.60,-0.75],[-4.56,0.78],[-4.43,0.68],[-4.30,0.58],[-4.17,0.48],[-4.04,0.98],[-3.91,0.88],[-3.78,0.78],[-3.65,0.68],[-3.52,0.53],[-3.39,0.43],[-3.26,0.33],[-3.13,0.23],[-2.99,0.13],[-2.86,-0.02],[-2.73,-0.22],[-2.60,-0.27],[-2.47,-0.42],[-2.34,-0.47],[-2.21,-0.37],[-2.08,0.53],[-1.95,0.33],[-1.82,0.13],[-1.69,-0.07],[-1.56,-0.22],[-1.43,-0.42],[-1.30,-0.62],[-1.17,-0.77],[-1.04,-0.92],[-0.91,-0.97],[-0.78,-0.87],[-0.62,-0.77],[-0.52,0.38],[-0.39,-0.02],[-0.26,-0.12],[-0.13,0.98],[0.00,0.88],[0.13,0.68],[0.26,0.53],[0.39,0.38],[0.52,0.23],[0.65,0.08],[0.78,0.13],[0.91,0.08],[1.04,-0.12],[1.17,-0.32],[1.30,-0.52],[1.43,-0.72],[1.56,-0.92],[1.69,-1.07],[1.82,-1.02],[1.95,-0.42],[2.02,1.88],[2.15,1.78],[2.28,1.58],[2.41,1.38],[2.54,1.18],[2.67,0.98],[2.80,0.78],[2.93,0.58],[3.06,0.38],[3.19,0.28],[3.32,0.18],[3.45,0.08],[3.58,-0.02],[3.71,-0.12],[3.84,-0.32],[3.97,-0.52],[4.10,-0.72],[4.23,-0.92],[4.36,-1.02],[4.49,-1.07],[4.62,-1.12],[4.75,-1.22],[4.88,-1.32],[5.01,-1.42],[5.18,-1.62],[5.23,0.28],[5.36,0.38],[5.47,0.43],[5.60,0.28],[5.73,0.18],[5.86,0.08],[5.99,-0.02],[6.12,-0.12],[6.25,-0.22],[6.38,-0.22],[6.51,-0.32],[6.64,-0.32],[6.77,-0.42],[6.90,-0.47],[7.03,-0.52],[7.16,-0.27],[7.29,0.13],[7.42,0.08],[7.55,-0.07],[7.68,0.08],[7.81,0.68],[7.94,0.58],[8.07,0.38],[8.20,0.28],[8.33,0.08],[8.46,0.13],[8.59,-0.02],[8.72,-0.22],[8.85,-0.32],[8.98,-0.52],[9.11,-0.67],[9.24,-0.72],[9.38,-0.22],[9.51,-0.32],[9.64,0.28],[9.77,0.08],[9.90,-0.22],[9.96,0.93]];

const modelG = [[-9.97,0.32],[-9.83,0.12],[-9.70,-0.08],[-9.57,-0.28],[-9.44,-0.43],[-9.31,-0.53],[-9.18,-0.63],[-9.05,-0.43],[-8.92,-0.58],[-8.79,-0.83],[-8.66,-0.13],[-8.53,-0.23],[-8.40,-0.33],[-8.27,-0.48],[-8.14,-0.63],[-8.01,-0.78],[-7.88,-0.93],[-7.72,-1.00],[-7.68,0.37],[-7.55,0.27],[-7.42,0.32],[-7.29,0.22],[-7.16,0.27],[-7.03,0.72],[-6.90,0.57],[-6.77,0.37],[-6.64,0.17],[-6.51,-0.03],[-6.38,-0.23],[-6.25,-0.43],[-6.12,-0.63],[-5.99,-0.83],[-5.86,-0.98],[-5.64,-1.10],[-5.60,0.07],[-5.47,-0.13],[-5.34,-0.28],[-5.21,-0.43],[-5.08,-0.63],[-4.95,-0.78],[-4.82,-0.93],[-4.69,-1.03],[-4.53,-1.13],[-4.49,0.57],[-4.36,0.67],[-4.23,0.47],[-4.17,1.07],[-4.04,0.92],[-3.91,0.72],[-3.78,0.52],[-3.65,0.37],[-3.52,0.22],[-3.39,0.12],[-3.26,0.02],[-3.13,-0.03],[-2.99,-0.13],[-2.86,-0.28],[-2.73,-0.43],[-2.60,-0.58],[-2.47,-0.63],[-2.34,-0.68],[-2.19,-0.73],[-2.15,0.52],[-2.02,0.37],[-1.82,0.17],[-1.69,0.02],[-1.56,-0.13],[-1.43,-0.33],[-1.30,-0.53],[-1.17,-0.73],[-1.04,-0.88],[-0.91,-1.03],[-0.78,-1.13],[-0.65,-0.93],[-0.52,0.07],[-0.39,-0.03],[-0.26,0.27],[-0.20,0.97],[-0.07,0.87],[0.07,0.72],[0.20,0.57],[0.33,0.42],[0.46,0.22],[0.59,0.07],[0.72,0.02],[0.85,-0.03],[0.98,-0.18],[1.11,-0.33],[1.24,-0.48],[1.37,-0.63],[1.50,-0.83],[1.63,-0.98],[1.76,-1.13],[1.89,-1.03],[1.95,2.02],[2.08,1.92],[2.21,1.77],[2.34,1.62],[2.47,1.42],[2.60,1.22],[2.73,1.02],[2.86,0.82],[2.99,0.62],[3.13,0.42],[3.26,0.22],[3.39,0.02],[3.52,-0.18],[3.65,-0.38],[3.78,-0.58],[3.91,-0.78],[4.04,-0.93],[4.17,-1.08],[4.30,-1.23],[4.43,-1.33],[4.56,-1.43],[4.69,-1.53],[4.82,-1.58],[4.95,-1.63],[5.08,-1.73],[5.21,-1.78],[5.27,0.37],[5.40,0.42],[5.53,0.32],[5.66,0.22],[5.79,0.12],[5.92,0.07],[6.05,-0.03],[6.18,-0.13],[6.32,-0.23],[6.45,-0.28],[6.58,-0.33],[6.71,-0.33],[6.84,-0.43],[6.97,-0.33],[7.10,-0.43],[7.23,-0.33],[7.29,0.02],[7.42,0.07],[7.55,-0.03],[7.68,0.17],[7.81,0.72],[7.94,0.57],[8.07,0.37],[8.20,0.27],[8.33,0.22],[8.46,0.07],[8.59,-0.13],[8.72,-0.33],[8.85,-0.53],[8.98,-0.68],[9.11,-0.83],[9.24,-0.73],[9.38,-0.23],[9.51,-0.13],[9.64,0.22],[9.77,0.07],[9.90,-0.13],[9.96,0.92]];

const measuredSeries = [measuredA, measuredB, measuredC, measuredD, measuredE, measuredF, measuredG];
const modelSeries = [null, modelB, modelC, modelD, modelE, modelF, modelG];

// ---- layout ----
const W = 826, H = 1141;
const plotLeft = 68, plotRight = 810;
const firstTop = 10, panelStep = 152, panelHeight = 138.5;
const frameColor = "#262626", gridColor = "#dcdcdc";
const distanceX = [694, 676, 703, 703, 703, 700, 700];
const plainNumber = d => String(d);   // ASCII hyphen for negatives

const svg = d3.select("#chart").attr("viewBox", `0 0 ${W} ${H}`);
svg.append("rect").attr("width", W).attr("height", H).attr("fill", "#fff");

const x = d3.scaleLinear().domain([-10, 10]).range([plotLeft, plotRight]);

measuredSeries.forEach((measured, i) => {
  const top = firstTop + i * panelStep;
  const bottom = top + panelHeight;
  const y = d3.scaleLinear().domain(pressureRanges[i]).range([bottom, top]);
  const g = svg.append("g");

  const clipId = "clip" + i;
  g.append("clipPath").attr("id", clipId)
    .append("rect").attr("x", plotLeft).attr("y", top)
    .attr("width", plotRight - plotLeft).attr("height", panelHeight);

  // grid: vertical lines at -5, 0, 5 and the zero-pressure line
  g.selectAll(".vgrid").data(gridTimes).join("line")
    .attr("x1", d => x(d)).attr("x2", d => x(d))
    .attr("y1", top).attr("y2", bottom)
    .attr("stroke", gridColor).attr("stroke-width", 3);
  g.append("line")
    .attr("x1", plotLeft).attr("x2", plotRight)
    .attr("y1", y(0)).attr("y2", y(0))
    .attr("stroke", gridColor).attr("stroke-width", 3);

  const line = d3.line().x(d => x(d[0])).y(d => y(d[1]));
  const traces = g.append("g").attr("clip-path", `url(#${clipId})`);

  traces.append("path").datum(measured)
    .attr("d", line).attr("fill", "none")
    .attr("stroke", "#000").attr("stroke-width", 3.2)
    .attr("stroke-linejoin", "round");

  if (modelSeries[i]) {
    traces.append("path").datum(modelSeries[i])
      .attr("d", line).attr("fill", "none")
      .attr("stroke", modelColors[i]).attr("stroke-width", 3.2)
      .attr("stroke-linejoin", "round");
  }

  if (i === 0) {
    const s = 10;
    crossMarks.forEach(([t, p]) => {
      const cx = x(t), cy = y(p);
      traces.append("path")
        .attr("d", `M${cx - s},${cy - s}L${cx + s},${cy + s}M${cx - s},${cy + s}L${cx + s},${cy - s}`)
        .attr("stroke", "#ff0000").attr("stroke-width", 3).attr("fill", "none");
    });
  }

  // axes with inward ticks (mirrored on all sides)
  const styleAxis = sel => {
    sel.select(".domain").remove();
    sel.selectAll(".tick line").attr("stroke", frameColor).attr("stroke-width", 3);
  };
  const bottomAxis = d3.axisBottom(x).tickValues(timeTicks).tickSize(-8).tickSizeOuter(0).tickPadding(15)
    .tickFormat(i < measuredSeries.length - 1 ? "" : plainNumber);
  const ax = g.append("g").attr("transform", `translate(0,${bottom})`).call(bottomAxis).call(styleAxis);
  ax.selectAll(".tick text").attr("font-size", 27).attr("fill", "#262626");

  g.append("g").attr("transform", `translate(0,${top})`)
    .call(d3.axisTop(x).tickValues(timeTicks).tickSize(-8).tickSizeOuter(0).tickFormat(""))
    .call(styleAxis);

  const ly = g.append("g").attr("transform", `translate(${plotLeft},0)`)
    .call(d3.axisLeft(y).tickValues([0]).tickSize(-7).tickSizeOuter(0).tickPadding(8).tickFormat(plainNumber))
    .call(styleAxis);
  ly.selectAll(".tick text").attr("font-size", 27).attr("fill", "#262626");

  g.append("g").attr("transform", `translate(${plotRight},0)`)
    .call(d3.axisRight(y).tickValues([0]).tickSize(-7).tickSizeOuter(0).tickFormat(""))
    .call(styleAxis);

  // frame
  g.append("rect")
    .attr("x", plotLeft).attr("y", top)
    .attr("width", plotRight - plotLeft).attr("height", panelHeight)
    .attr("fill", "none").attr("stroke", frameColor).attr("stroke-width", 3);

  // panel letter
  g.append("text").attr("x", 79).attr("y", top + 34)
    .attr("font-size", 26).attr("fill", "#1a1a1a").text(panelLetters[i]);

  // distance
  g.append("text").attr("x", distanceX[i]).attr("y", top + 34)
    .attr("text-anchor", "middle").attr("font-size", 27).attr("font-weight", "bold")
    .attr("fill", "#000").text(distances[i]);

  // correlation coefficient
  if (rhoValues[i]) {
    const t = g.append("text").attr("y", top + 30).attr("font-weight", "bold").attr("fill", "#000");
    t.append("tspan").attr("x", 298).attr("font-size", 30).attr("font-style", "italic").text("ρ");
    t.append("tspan").attr("x", 316).attr("dy", 13).attr("font-size", 21).text("xy");
    t.append("tspan").attr("x", 346).attr("dy", -13).attr("font-size", 28).text("= " + rhoValues[i]);
  }
});

// axis titles
svg.append("text")
  .attr("transform", `translate(36,535) rotate(-90)`)
  .attr("text-anchor", "middle").attr("font-size", 34).attr("fill", "#262626")
  .text("Pressure");

svg.append("text")
  .attr("x", (plotLeft + plotRight) / 2).attr("y", 1132)
  .attr("text-anchor", "middle").attr("font-size", 33).attr("fill", "#262626")
  .text("Time, ms");
</script>
</body>
</html>
